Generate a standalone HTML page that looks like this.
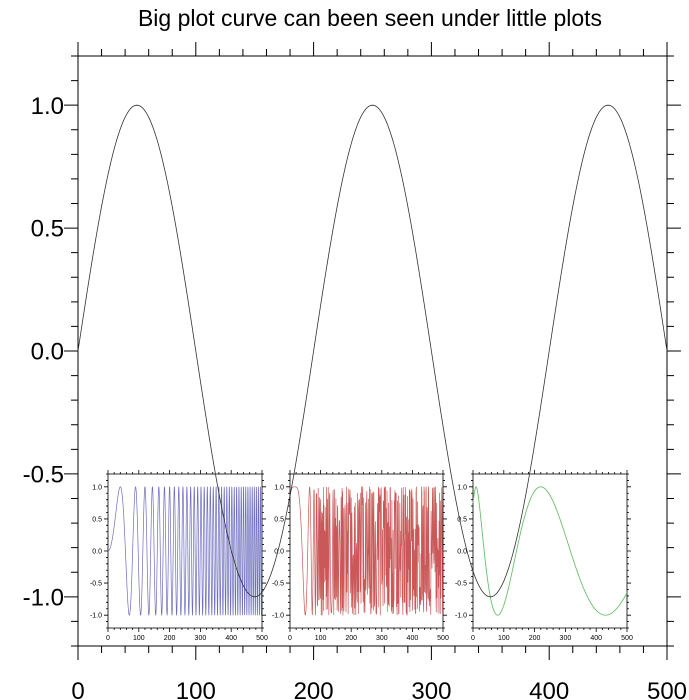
<!DOCTYPE html>
<html><head><meta charset="utf-8"><style>
html,body{margin:0;padding:0;background:#fff;width:689px;height:700px;overflow:hidden}
svg{display:block;font-family:"Liberation Sans",sans-serif}
</style></head><body>
<svg id="s" width="689" height="700" viewBox="0 0 689 700" xmlns="http://www.w3.org/2000/svg">
<text x="370" y="26" font-size="23" text-anchor="middle">Big plot curve can been seen under little plots</text>
</svg>
<script>
const S=document.getElementById('s');const NS='http://www.w3.org/2000/svg';
function el(t,a,txt){const e=document.createElementNS(NS,t);for(const k in a)e.setAttribute(k,a[k]);if(txt!==undefined)e.textContent=txt;S.appendChild(e);return e;}
function axes(x0,x1,y0,y1,maj,mnr,fs,lw,xoff,yoff){
  el('rect',{x:x0,y:y0,width:x1-x0,height:y1-y0,fill:'none',stroke:'#000','stroke-width':lw});
  const sx=v=>x0+(x1-x0)*v/500, sy=v=>y0+(y1-y0)*(1.2-v)/2.4;
  let d='';
  for(let v=0;v<=500;v+=20){const X=sx(v),L=(v%100==0)?maj:mnr;d+=`M${X} ${y1}v${L}M${X} ${y0}v${-L}`;
    if(v%100==0)el('text',{x:X,y:y1+xoff,'font-size':fs,'text-anchor':'middle'},String(v));}
  for(let i=-12;i<=12;i++){const v=i/10,Y=sy(v),L=(i%5==0)?maj:mnr;d+=`M${x0} ${Y}h${-L}M${x1} ${Y}h${L}`;
    if(i%5==0&&Math.abs(i)<=10)el('text',{x:x0-yoff,y:Y+fs*0.36,'font-size':fs,'text-anchor':'end'},v.toFixed(1));}
  el('path',{d:d,stroke:'#000','stroke-width':lw,fill:'none'});
  return [sx,sy];
}
function curve(sx,sy,f,step,col,w,op){let d='';for(let x=0;x<=500+1e-9;x+=step){d+=(x==0?'M':'L')+sx(x).toFixed(2)+' '+sy(f(x)).toFixed(2);}
  el('path',{d:d,stroke:col,'stroke-width':w,fill:'none','stroke-opacity':op||1,'stroke-linejoin':'round'});}
const [mx,my]=axes(78,667,56,646,14,7,24,1,53,14);
const a1=axes(108,262,474,628,4,2,7,0.8,12,6);
curve(a1[0],a1[1],x=>Math.sin(Math.PI/3200*x*x),0.25,'#4848b0',0.7,0.8);
const a2=axes(290,443,474,628,4,2,7,0.8,12,6);
const k=Math.PI/1225;
curve(a2[0],a2[1],x=>{const t=x-15;return Math.cos(k*t*t*(1+Math.pow(Math.max(0,x-60)/40,2)));},1,'#b82020',0.7,0.75);
const a3=axes(473,627,474,628,4,2,7,0.8,12,6);
curve(a3[0],a3[1],x=>{const t=Math.abs(x-10);const n=(-1+Math.sqrt(1+4*t/35))/2;return Math.cos(Math.PI*n);},1,'#6cbf6c',0.9);
curve(mx,my,x=>Math.sin(2*Math.PI*x/200),1,'#333',0.8);
</script>
</body></html>
